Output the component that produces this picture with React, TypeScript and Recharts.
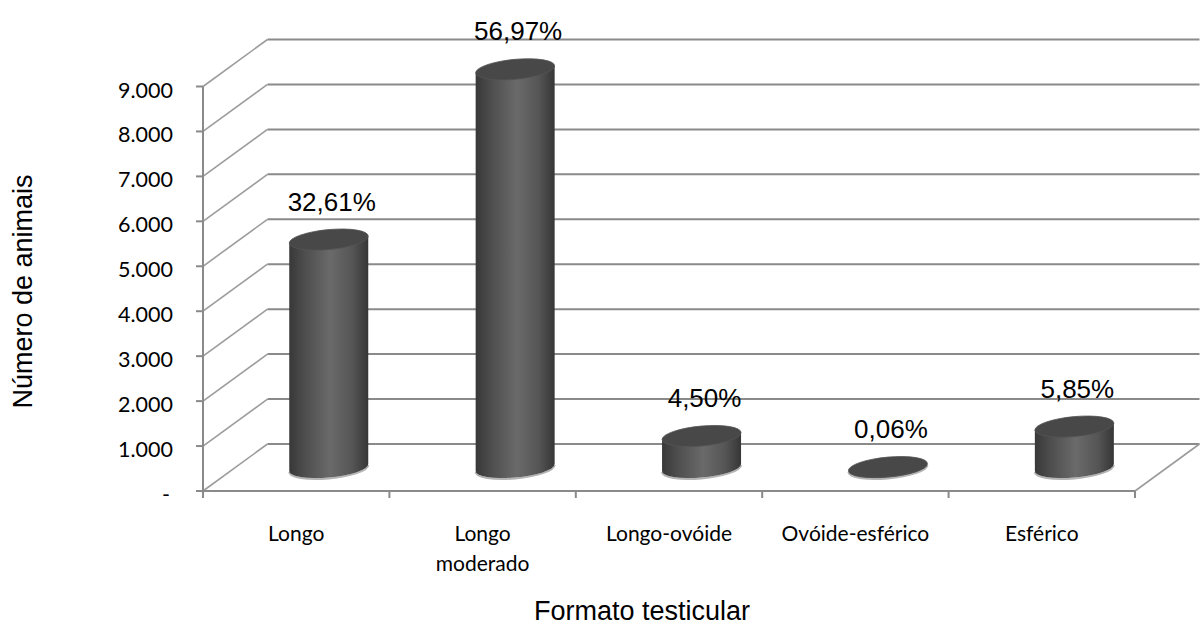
import React from 'react';
import { BarChart, Bar, XAxis, YAxis, CartesianGrid, LabelList, Label } from 'recharts';

// ---- data ----
const categories = ['Longo', 'Longo moderado', 'Longo-ovóide', 'Ovóide-esférico', 'Esférico'];
const categoryLines = [['Longo'], ['Longo', 'moderado'], ['Longo-ovóide'], ['Ovóide-esférico'], ['Esférico']];
const animalCounts = [5071, 8859, 700, 9, 910];
const percentLabels = ['32,61%', '56,97%', '4,50%', '0,06%', '5,85%'];
const yTicks = [0, 1000, 2000, 3000, 4000, 5000, 6000, 7000, 8000, 9000];
const yTitle = 'Número de animais';
const xTitle = 'Formato testicular';

const data = categories.map((name, i) => ({ name, count: animalCounts[i], pct: percentLabels[i], idx: i }));

// ---- layout / style ----
const W = 1203;
const H = 626;
const Y_AXIS_W = 203;
const X_AXIS_H = 135;
const MARGIN = { top: 86.5, right: 68, bottom: 0, left: 0 };
const BOTTOM_Y = H - X_AXIS_H;
const PLOT_W = W - MARGIN.right - Y_AXIS_W;
const DEPTH_X = 64.5;
const DEPTH_Y = 47;
const GRID = '#8a8a8a';
const TICK_FONT = 'Lato, "Open Sans", sans-serif';
const ARIAL = '"Liberation Sans", Arial, sans-serif';

const fmt = (v: number) => (v === 0 ? '-' : String(v).replace(/\B(?=(\d{3})+(?!\d))/g, '.'));

const GridLine = (props: any) => {
  const { x1, y1, x2 } = props;
  const bx = x1 + DEPTH_X;
  const by = y1 - DEPTH_Y;
  const isFloor = Math.abs(y1 - BOTTOM_Y) < 1;
  return (
    <g>
      <line x1={x1} y1={y1} x2={bx} y2={by} stroke="#9c9c9c" strokeWidth={1.6} />
      <line x1={bx} y1={by} x2={x2 + DEPTH_X} y2={by} stroke={GRID} strokeWidth={2} />
      {isFloor && <line x1={x2} y1={y1} x2={x2 + DEPTH_X} y2={by} stroke="#9c9c9c" strokeWidth={1.6} />}
    </g>
  );
};

const Cylinder = (props: any) => {
  const { x, y, width, height, index } = props;
  if (x == null || y == null) return null;
  const cx = x + width / 2 + DEPTH_X / 2;
  const top = y - DEPTH_Y / 2;
  const bot = y + Math.max(height, 0) - DEPTH_Y / 2;
  const rx = width / 2;
  const ry = 10;
  const left = cx - rx;
  const right = cx + rx;
  const mid = (top + bot) / 2;
  const id = `cylgrad-${index}`;
  const body = `M${left},${top} L${left},${bot} A${rx},${ry} 0 0 0 ${right},${bot} L${right},${top} Z`;
  const rim = `M${left},${bot} A${rx},${ry} 0 0 0 ${right},${bot}`;
  return (
    <g transform={`translate(${cx},${mid}) skewY(-5) translate(${-cx},${-mid})`}>
      <defs>
        <linearGradient id={id} x1="0" y1="0" x2="1" y2="0">
          <stop offset="0%" stopColor="#383838" />
          <stop offset="20%" stopColor="#4e4e4e" />
          <stop offset="52%" stopColor="#6a6a6a" />
          <stop offset="80%" stopColor="#555555" />
          <stop offset="100%" stopColor="#363636" />
        </linearGradient>
      </defs>
      <path d={rim} fill="none" stroke="#b4b4b4" strokeWidth={2} transform="translate(0,1)" />
      <path d={body} fill={`url(#${id})`} />
      <ellipse cx={cx} cy={top} rx={rx} ry={ry} fill="#484848" stroke="#555" strokeWidth={0.8} />
    </g>
  );
};

const PctLabel = (props: any) => {
  const { x, y, width, value } = props;
  const cx = Number(x) + Number(width) / 2 + DEPTH_X / 2 + 3;
  const topCenter = Number(y) - DEPTH_Y / 2;
  return (
    <text x={cx} y={topCenter - 29} textAnchor="middle" fontFamily={ARIAL} fontSize={26} fill="#000">
      {value}
    </text>
  );
};

const XTick = (props: any) => {
  const { x, index } = props;
  const band = PLOT_W / categories.length;
  const lines = categoryLines[index] || [];
  const last = index === categories.length - 1;
  return (
    <g>
      <line x1={x - band / 2} y1={BOTTOM_Y} x2={x - band / 2} y2={BOTTOM_Y + 7} stroke={GRID} strokeWidth={2} />
      {last && <line x1={x + band / 2} y1={BOTTOM_Y} x2={x + band / 2} y2={BOTTOM_Y + 7} stroke={GRID} strokeWidth={2} />}
      <text textAnchor="middle" fontFamily={TICK_FONT} fontSize={21} fill="#000">
        {lines.map((l: string, i: number) => (
          <tspan key={i} x={x} y={BOTTOM_Y + 50 + i * 30}>
            {l}
          </tspan>
        ))}
      </text>
    </g>
  );
};

const YTick = (props: any) => {
  const { x, y, payload } = props;
  const v = payload.value;
  return (
    <text x={v === 0 ? x - 3 : x} y={y + 11} textAnchor="end" fontFamily={TICK_FONT} fontSize={21.5} fill="#000">
      {fmt(v)}
    </text>
  );
};

const YTitle = () => (
  <text
    x={0}
    y={0}
    transform={`translate(32,291.5) rotate(-90)`}
    textAnchor="middle"
    fontFamily={ARIAL}
    fontSize={27}
    fill="#000"
  >
    {yTitle}
  </text>
);

const XTitle = () => (
  <text x={642} y={620} textAnchor="middle" fontFamily={ARIAL} fontSize={27} fill="#000">
    {xTitle}
  </text>
);

export default function App() {
  return (
    <div style={{ position: 'absolute', left: 0, top: 0, width: W, height: H, background: '#fff' }}>
      <BarChart width={W} height={H} data={data} margin={MARGIN} barSize={79}>
        <CartesianGrid horizontal={GridLine as any} vertical={false} />
        <XAxis
          dataKey="name"
          height={X_AXIS_H}
          interval={0}
          tickLine={false}
          axisLine={{ stroke: GRID, strokeWidth: 2 }}
          tick={<XTick />}
        >
          <Label content={<XTitle />} />
        </XAxis>
        <YAxis
          width={Y_AXIS_W}
          domain={[0, 9000]}
          ticks={yTicks}
          interval={0}
          tickSize={7}
          tickMargin={23}
          tickLine={{ stroke: GRID, strokeWidth: 2 }}
          axisLine={{ stroke: GRID, strokeWidth: 2 }}
          tick={<YTick />}
        >
          <Label content={<YTitle />} />
        </YAxis>
        <Bar dataKey="count" shape={<Cylinder />} isAnimationActive={false}>
          <LabelList dataKey="pct" content={<PctLabel />} />
        </Bar>
      </BarChart>
    </div>
  );
}
